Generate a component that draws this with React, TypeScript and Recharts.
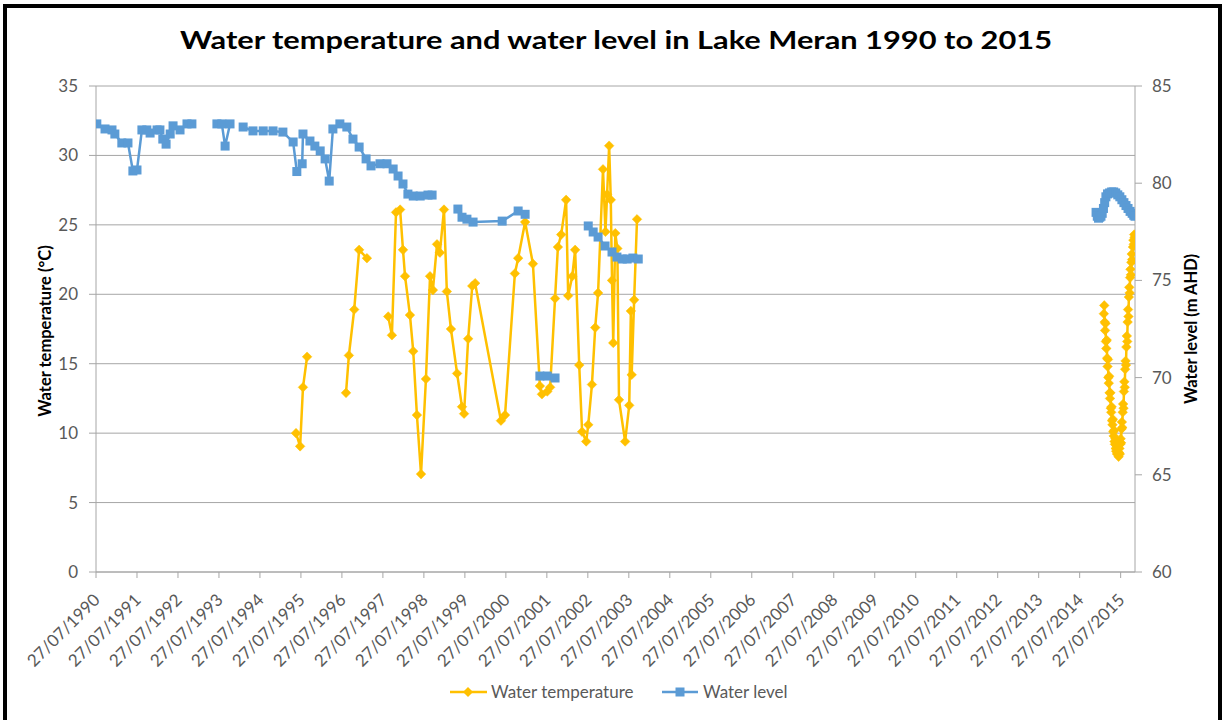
import React from "react";
import { LineChart, Line, XAxis, YAxis, CartesianGrid } from "recharts";

// Dates are decimal years (27 July = .57)
const tempDates: number[] = [
  1995.45, 1995.55, 1995.62, 1995.72, 1996.2,
  1996.67, 1996.74, 1996.87, 1996.99, 1997.18, 1997.45,
  1997.7, 1997.79, 1997.89, 1997.99, 1998.06, 1998.11, 1998.23, 1998.31, 1998.4, 1998.5,
  1998.62, 1998.72, 1998.79, 1998.89, 1998.96, 1999.06, 1999.13, 1999.23, 1999.38, 1999.5,
  1999.55, 1999.65, 1999.75, 1999.82, 2000.45, 2000.55, 2000.79, 2000.87, 2001.04, 2001.23,
  2001.4, 2001.45, 2001.58, 2001.65, 2001.77, 2001.84, 2001.92, 2002.04, 2002.09, 2002.19,
  2002.26, 2002.36, 2002.43, 2002.53, 2002.58, 2002.67, 2002.75, 2002.82, 2002.94, 2003.0,
  2003.04, 2003.09, 2003.13, 2003.16, 2003.19, 2003.24, 2003.29, 2003.33, 2003.48, 2003.58,
  2003.62, 2003.64, 2003.7, 2003.77, 2009.0,
  2015.16, 2015.17, 2015.18, 2015.19, 2015.2, 2015.21, 2015.22, 2015.23, 2015.24, 2015.25,
  2015.26, 2015.27, 2015.28, 2015.29, 2015.3, 2015.31, 2015.32, 2015.33, 2015.34, 2015.35,
  2015.36, 2015.37, 2015.38, 2015.39, 2015.4, 2015.41, 2015.42, 2015.43, 2015.44, 2015.45,
  2015.46, 2015.47, 2015.48, 2015.5, 2015.52, 2015.53, 2015.54, 2015.55, 2015.56, 2015.57,
  2015.58, 2015.59, 2015.6, 2015.61, 2015.62, 2015.63, 2015.64, 2015.65, 2015.66, 2015.67,
  2015.68, 2015.69, 2015.7, 2015.71, 2015.72, 2015.73, 2015.74, 2015.75, 2015.76, 2015.77,
  2015.78, 2015.79, 2015.8, 2015.81, 2015.82, 2015.83, 2015.84, 2015.85, 2015.87, 2015.88,
  2015.89, 2015.9, 2015.91,
];
const tempValues: (number | null)[] = [
  10.0, 9.05, 13.3, 15.5, null,
  12.9, 15.6, 18.9, 23.2, 22.6, null,
  18.4, 17.05, 25.9, 26.1, 23.2, 21.3, 18.5, 15.9, 11.3, 7.05,
  13.9, 21.3, 20.3, 23.6, 23.0, 26.1, 20.2, 17.5, 14.3, 11.9,
  11.4, 16.8, 20.6, 20.8, 10.9, 11.3, 21.5, 22.6, 25.2, 22.2,
  13.4, 12.8, 13.0, 13.3, 19.7, 23.4, 24.3, 26.8, 19.9, 21.3,
  23.2, 14.9, 10.1, 9.4, 10.6, 13.5, 17.6, 20.1, 29.0, 24.5,
  27.2, 30.7, 26.8, 21.0, 16.5, 24.4, 23.3, 12.4, 9.4, 12.0,
  18.8, 14.2, 19.6, 25.4, null,
  18.6, 19.2, 18.0, 17.4, 17.9, 16.6, 16.1, 16.7, 15.4, 14.8,
  15.3, 14.0, 13.6, 14.1, 12.9, 12.5, 12.9, 11.8, 11.5, 11.9,
  10.9, 10.6, 11.0, 10.1, 9.8, 10.2, 9.4, 9.2, 9.6, 8.9,
  8.7, 9.1, 8.5, 8.6, 8.3, 8.6, 8.9, 8.5, 9.2, 9.6,
  9.3, 10.3, 10.8, 10.4, 11.5, 12.1, 11.8, 13.0, 13.7, 13.3,
  14.6, 15.2, 14.9, 16.2, 17.0, 16.6, 18.0, 18.9, 18.4, 19.8,
  20.5, 20.1, 21.2, 21.8, 21.4, 22.3, 22.9, 22.5, 23.4, 23.9,
  23.6, 24.3, 24.1,
];

const levelDates: number[] = [
  1990.59, 1990.79, 1990.96, 1991.03, 1991.2, 1991.35, 1991.47, 1991.57, 1991.69, 1991.81,
  1991.89, 1992.06, 1992.13, 1992.2, 1992.28, 1992.38, 1992.45, 1992.62, 1992.79, 1992.91,
  1993.2,
  1993.52, 1993.64, 1993.72, 1993.84, 1994.0,
  1994.16, 1994.4, 1994.65, 1994.89, 1995.13, 1995.38, 1995.47, 1995.6, 1995.62, 1995.79,
  1995.91, 1996.04, 1996.16, 1996.26, 1996.35, 1996.52, 1996.69, 1996.84, 1996.99, 1997.16,
  1997.28, 1997.5, 1997.67, 1997.82, 1997.94, 1998.06, 1998.18, 1998.31, 1998.48, 1998.67,
  1998.77, 1999.1,
  1999.4, 1999.5, 1999.62, 1999.77, 2000.48, 2000.87, 2001.04, 2001.2,
  2001.4, 2001.58, 2001.77, 2002.2,
  2002.58, 2002.7, 2002.82, 2002.99, 2003.16, 2003.28, 2003.41, 2003.53, 2003.67, 2003.8,
  2009.0,
  2014.97, 2015.0, 2015.03, 2015.06, 2015.09, 2015.12, 2015.15, 2015.18, 2015.21, 2015.25,
  2015.3, 2015.35, 2015.4, 2015.45, 2015.5, 2015.55, 2015.6, 2015.65, 2015.7, 2015.75,
  2015.8, 2015.85, 2015.89, 2015.92,
];
const levelValues: (number | null)[] = [
  83.05, 82.79, 82.74, 82.53, 82.07, 82.07, 80.63, 80.68, 82.74, 82.74,
  82.58, 82.74, 82.74, 82.27, 82.01, 82.53, 82.95, 82.74, 83.05, 83.05,
  null,
  83.05, 83.05, 81.91, 83.05, null,
  82.89, 82.69, 82.69, 82.69, 82.63, 82.12, 80.6, 81.0, 82.53, 82.17,
  81.91, 81.66, 81.25, 80.11, 82.79, 83.05, 82.89, 82.27, 81.86, 81.25,
  80.89, 81.0, 81.0, 80.73, 80.37, 79.96, 79.44, 79.34, 79.34, 79.39,
  79.39, null,
  78.67, 78.25, 78.15, 78.0, 78.05, 78.57, 78.4, null,
  70.08, 70.08, 69.98, null,
  77.8, 77.49, 77.23, 76.77, 76.46, 76.2, 76.1, 76.1, 76.15, 76.1,
  null,
  78.5, 78.3, 78.2, 78.25, 78.3, 78.45, 78.7, 79.0, 79.3, 79.45,
  79.5, 79.55, 79.55, 79.5, 79.4, 79.3, 79.15, 79.0, 78.85, 78.7,
  78.55, 78.45, 78.35, 78.3,
];

const tickYears: number[] = [
  1990, 1991, 1992, 1993, 1994, 1995, 1996, 1997, 1998, 1999, 2000, 2001, 2002,
  2003, 2004, 2005, 2006, 2007, 2008, 2009, 2010, 2011, 2012, 2013, 2014, 2015,
];
const xTickDates = tickYears.map((y) => y + 0.57);
const xTickLabels = tickYears.map((y) => `27/07/${y}`);
const tempTicks = [0, 5, 10, 15, 20, 25, 30, 35];
const levelTicks = [60, 65, 70, 75, 80, 85];

const TITLE = "Water temperature and water level in Lake Meran 1990 to 2015";
const TEMP_NAME = "Water temperature";
const LEVEL_NAME = "Water level";
const TEMP_AXIS = "Water temperature (°C)";
const LEVEL_AXIS = "Water level (m AHD)";

const ORANGE = "#FFC000";
const BLUE = "#5B9BD5";
const FONT = "Lato, 'Open Sans', sans-serif";
const TICK_COLOR = "#595959";
const GRID = "#A6A6A6";

const tempData = tempDates.map((d, i) => ({ date: d, t: tempValues[i] }));
const levelData = levelDates.map((d, i) => ({ date: d, l: levelValues[i] }));

const DiamondDot = (props: any) => {
  const { cx, cy, index } = props;
  if (cy == null || cx == null || isNaN(cy)) return <g key={`d${index}`} />;
  const r = 4.8;
  return (
    <polygon
      key={`d${index}`}
      points={`${cx},${cy - r} ${cx + r},${cy} ${cx},${cy + r} ${cx - r},${cy}`}
      fill={ORANGE}
      stroke={ORANGE}
      strokeWidth={0.5}
    />
  );
};

const SquareDot = (props: any) => {
  const { cx, cy, index } = props;
  if (cy == null || cx == null || isNaN(cy)) return <g key={`s${index}`} />;
  const s = 9;
  return <rect key={`s${index}`} x={cx - s / 2} y={cy - s / 2} width={s} height={s} fill={BLUE} />;
};

const XTick = (props: any) => {
  const { x, y, payload } = props;
  const idx = xTickDates.findIndex((v) => Math.abs(v - payload.value) < 1e-6);
  const label = idx >= 0 ? xTickLabels[idx] : "";
  const px = x + 5;
  const py = y + 21;
  return (
    <text
      x={px}
      y={py}
      transform={`rotate(-45, ${px}, ${py})`}
      textAnchor="end"
      fill={TICK_COLOR}
      fontSize={17}
      fontFamily={FONT}
    >
      {label}
    </text>
  );
};

export default function App() {
  return (
    <div
      style={{
        position: "absolute",
        left: 0,
        top: 0,
        width: 1225,
        height: 720,
        background: "#fff",
        overflow: "hidden",
      }}
    >
      <div style={{ position: "absolute", left: 0, top: 0 }}>
        <LineChart width={1225} height={720} margin={{ top: 86, right: 30, bottom: 88, left: 36 }}>
          <CartesianGrid yAxisId="left" vertical={false} stroke={GRID} strokeWidth={1} />
          <XAxis
            dataKey="date"
            type="number"
            domain={[1990.57, 2015.92]}
            ticks={xTickDates}
            interval={0}
            allowDataOverflow
            height={60}
            stroke={GRID}
            tickSize={6}
            tick={<XTick />}
          />
          <YAxis
            yAxisId="left"
            orientation="left"
            domain={[0, 35]}
            ticks={tempTicks}
            width={60}
            stroke={GRID}
            tickSize={7}
            tickMargin={11}
            tick={{ fill: TICK_COLOR, fontSize: 17, fontFamily: FONT }}
          />
          <YAxis
            yAxisId="right"
            orientation="right"
            domain={[60, 85]}
            ticks={levelTicks}
            width={60}
            stroke={GRID}
            tickSize={7}
            tickMargin={10}
            tick={{ fill: TICK_COLOR, fontSize: 17, fontFamily: FONT, textAnchor: "start" }}
          />
          <Line
            yAxisId="left"
            data={tempData}
            dataKey="t"
            name={TEMP_NAME}
            type="linear"
            stroke={ORANGE}
            strokeWidth={2.5}
            dot={DiamondDot}
            activeDot={false}
            connectNulls={false}
            isAnimationActive={false}
          />
          <Line
            yAxisId="right"
            data={levelData}
            dataKey="l"
            name={LEVEL_NAME}
            type="linear"
            stroke={BLUE}
            strokeWidth={2.5}
            dot={SquareDot}
            activeDot={false}
            connectNulls={false}
            isAnimationActive={false}
          />
        </LineChart>
      </div>
      <svg
        width={1225}
        height={720}
        style={{ position: "absolute", left: 0, top: 0, pointerEvents: "none" }}
      >
        <text
          x={616}
          y={49}
          textAnchor="middle"
          fontFamily={FONT}
          fontWeight={700}
          fontSize={25}
          fill="#000"
          textLength={872}
          lengthAdjust="spacingAndGlyphs"
        >
          {TITLE}
        </text>
        <text
          x={51}
          y={331}
          transform="rotate(-90, 51, 331)"
          textAnchor="middle"
          fontFamily={FONT}
          fontWeight={700}
          fontSize={16.5}
          fill="#000"
        >
          {TEMP_AXIS}
        </text>
        <text
          x={1197}
          y={329}
          transform="rotate(-90, 1197, 329)"
          textAnchor="middle"
          fontFamily={FONT}
          fontWeight={700}
          fontSize={16.5}
          fill="#000"
        >
          {LEVEL_AXIS}
        </text>
        {/* legend */}
        <line x1={450} y1={692} x2={487} y2={692} stroke={ORANGE} strokeWidth={2.5} />
        <polygon points="468,687 473,692 468,697 463,692" fill={ORANGE} />
        <text x={491} y={698} fontFamily={FONT} fontSize={17} fill={TICK_COLOR}>
          {TEMP_NAME}
        </text>
        <line x1={662} y1={692} x2={698} y2={692} stroke={BLUE} strokeWidth={2.5} />
        <rect x={675.5} y={687.5} width={9} height={9} fill={BLUE} />
        <text x={703} y={698} fontFamily={FONT} fontSize={17} fill={TICK_COLOR}>
          {LEVEL_NAME}
        </text>
      </svg>
      <div
        style={{
          position: "absolute",
          left: 3,
          top: 4,
          width: 1211,
          height: 740,
          border: "4px solid #000",
          pointerEvents: "none",
        }}
      />
    </div>
  );
}
